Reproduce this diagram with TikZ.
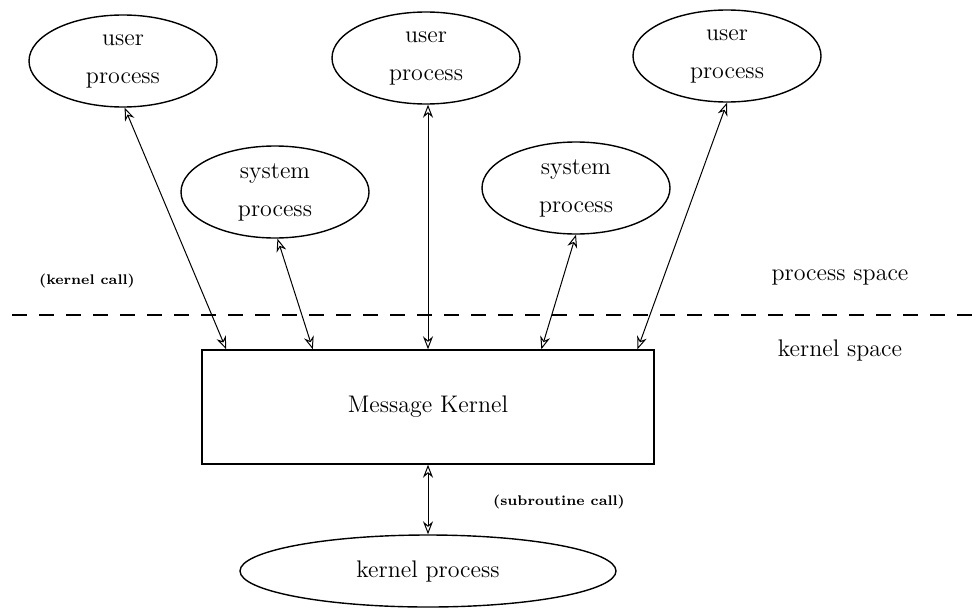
\documentclass[tikz,border=0pt]{standalone}
\usetikzlibrary{arrows.meta,shapes.geometric,calc}
\begin{document}
\begin{tikzpicture}[x=0.5pt,y=-0.5pt,
  proc/.style={ellipse,draw,line width=0.7pt,minimum width=94pt,minimum height=46pt,inner sep=0pt,align=center,font=\fontsize{12}{14}\selectfont},
  tip/.tip={Stealth[open,length=6.5pt,width=5pt]},
  conn/.style={line width=0.5pt,tip-tip},
  lbl/.style={font=\fontsize{12}{14}\selectfont},
  small/.style={font=\fontsize{7}{8}\selectfont\bfseries}]
\useasboundingbox (0,0) rectangle (977,610);

\node[proc] (u1) at (123,61) {user\\[5pt]process};
\node[proc] (u2) at (426,58) {user\\[5pt]process};
\node[proc] (u3) at (727,56) {user\\[5pt]process};
\node[proc] (s1) at (275,192) {system\\[5pt]process};
\node[proc] (s2) at (576,188) {system\\[5pt]process};

\node[draw,line width=0.7pt,minimum width=226pt,minimum height=57pt,inner sep=0pt,lbl] (mk) at (428,407) {Message Kernel};
\node[proc,minimum width=188pt,minimum height=36pt] (kp) at (428,571) {kernel process};

\coordinate (dl) at (12,315);
\coordinate (dr) at (977,315);
\draw[dashed,line width=0.6pt,dash pattern=on 7.5pt off 6pt] (dl) -- (dr);

\node[lbl] (ps) at (840,277) {process space};
\node[lbl] (ks) at (840,350) {kernel space};
\node[small] (kc) at (87,281) {(kernel call)};
\node[small] (sc) at (559,502) {(subroutine call)};

\draw[conn] (u1.-88) -- ($(mk.north west)!0.055!(mk.north east)$);
\draw[conn] (s1.-87) -- ($(mk.north west)!0.246!(mk.north east)$);
\draw[conn] (u2.south -| mk.north) -- (mk.north);
\draw[conn] (s2.south) -- ($(mk.north west)!0.75!(mk.north east)$);
\draw[conn] (u3.south) -- ($(mk.north west)!0.962!(mk.north east)$);
\draw[conn] (mk.south) -- (kp.north);
\end{tikzpicture}
\end{document}
